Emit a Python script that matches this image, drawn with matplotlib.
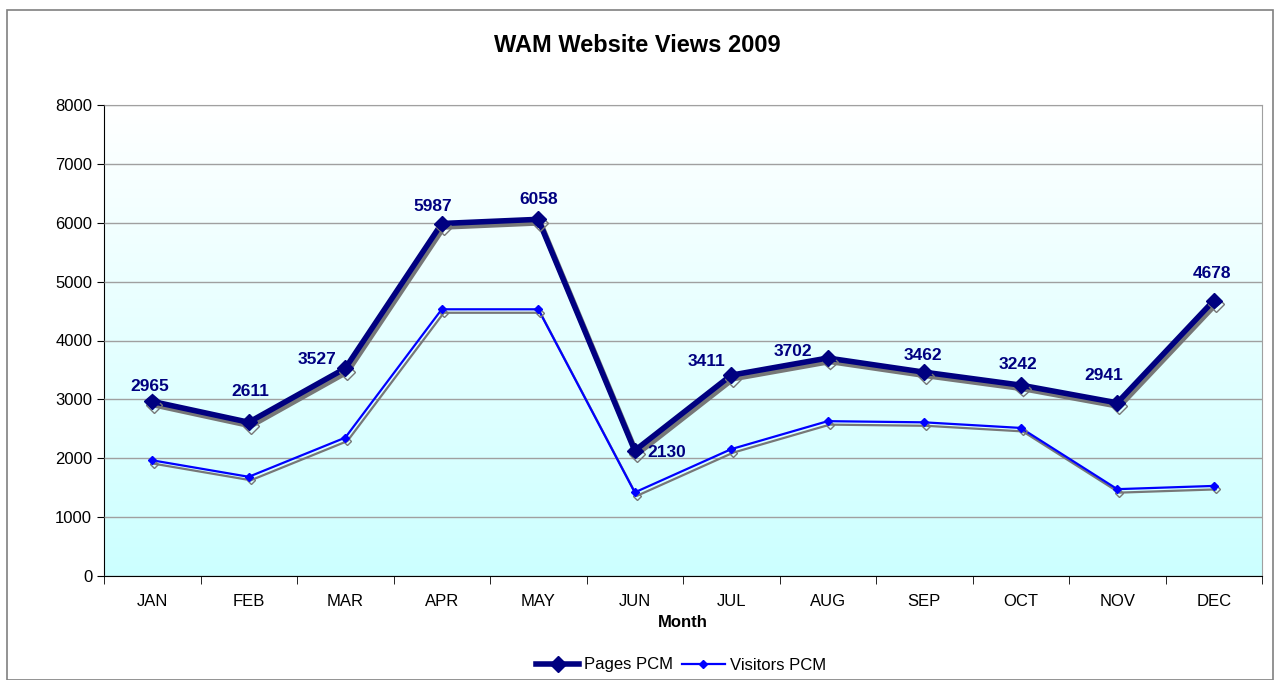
import numpy as np
import matplotlib
matplotlib.use("Agg")
import matplotlib.pyplot as plt
import matplotlib.patheffects as pe
from matplotlib.patches import Rectangle
from matplotlib.lines import Line2D

# Data
months = ['JAN', 'FEB', 'MAR', 'APR', 'MAY', 'JUN', 'JUL', 'AUG', 'SEP', 'OCT', 'NOV', 'DEC']
pages = [2965, 2611, 3527, 5987, 6058, 2130, 3411, 3702, 3462, 3242, 2941, 4678]
visitors = [1965, 1685, 2350, 4530, 4530, 1420, 2155, 2630, 2610, 2515, 1475, 1530]

# data label offsets in points (dx, dy), label centre relative to the marker
label_offsets = [(-2, 11), (1, 22), (-20, 6.5), (-6.5, 12), (0, 14.5), (23, -1.5),
                 (-18, 9.5), (-25, 4.5), (-1, 12), (-2, 14.5), (-10, 19.5), (-1.5, 19.5)]

plt.rcParams['font.family'] = ['Liberation Sans', 'DejaVu Sans']

fig = plt.figure(figsize=(12.74, 6.8), dpi=100)
fig.patches.append(Rectangle((7 / 1274, 0.0), 1266 / 1274, 1 - 10 / 680, transform=fig.transFigure,
                             fill=False, edgecolor='#808080', linewidth=1.2))

ax = fig.add_axes([104 / 1274, 104 / 680, 1158 / 1274, 471 / 680])
x = np.arange(len(months))

# gradient background, white on top to light cyan at the bottom
grad = np.linspace(0, 1, 256).reshape(-1, 1)
top = np.array([1.0, 1.0, 1.0])
bot = np.array([0.80, 1.0, 1.0])
img = top + (bot - top) * grad[..., None]
ax.imshow(img, extent=(-0.5, 11.5, 0, 8000), origin='upper', aspect='auto', zorder=0)

ax.set_xlim(-0.5, 11.5)
ax.set_ylim(0, 8000)
ax.set_yticks(range(0, 8001, 1000))
ax.yaxis.grid(True, color='#a0a0a0', linewidth=1.0, zorder=1)
ax.set_axisbelow(False)

shadow = [pe.SimpleLineShadow(offset=(1.5, -2.5), shadow_color='#777777', alpha=1.0), pe.Normal()]
ax.plot(x, pages, color='#000080', linewidth=4, marker='D', markersize=8,
        zorder=4, path_effects=shadow)
ax.plot(x, visitors, color='#0000ff', linewidth=1.6, marker='D', markersize=4,
        zorder=3, path_effects=shadow)

for i, v in enumerate(pages):
    dx, dy = label_offsets[i]
    ax.annotate(str(v), (x[i], v), xytext=(dx, dy), textcoords='offset points',
                ha='center', va='center', fontsize=12.5,
                fontweight='bold', color='#000080', zorder=5)

ax.set_xticks(x)
ax.set_xticklabels(months, fontsize=12)
ax.tick_params(axis='x', length=0, pad=13)
ax.set_xticks(np.arange(-0.5, 12, 1), minor=True)
ax.tick_params(axis='x', which='minor', length=6, direction='out', color='black')
ax.tick_params(axis='y', labelsize=12, length=5, direction='out')
for s in ['top', 'right']:
    ax.spines[s].set_color('#a0a0a0')
ax.spines['left'].set_color('black')
ax.spines['bottom'].set_color('black')

ax.set_xlabel('Month', fontsize=12, fontweight='bold', labelpad=4)
fig.text(0.5, 1 - 46 / 680, 'WAM Website Views 2009', ha='center', va='center',
         fontsize=17, fontweight='bold')

handles = [Line2D([], [], color='#000080', linewidth=4, marker='D', markersize=8),
           Line2D([], [], color='#0000ff', linewidth=1.6, marker='D', markersize=4)]
fig.legend(handles, ['Pages PCM', 'Visitors PCM'], loc='center',
           bbox_to_anchor=(681 / 1274, 1 - 665 / 680), ncol=2, frameon=False,
           fontsize=12, handlelength=2.6, handletextpad=0.3, columnspacing=0.5)

fig.savefig('out.png', dpi=100)
